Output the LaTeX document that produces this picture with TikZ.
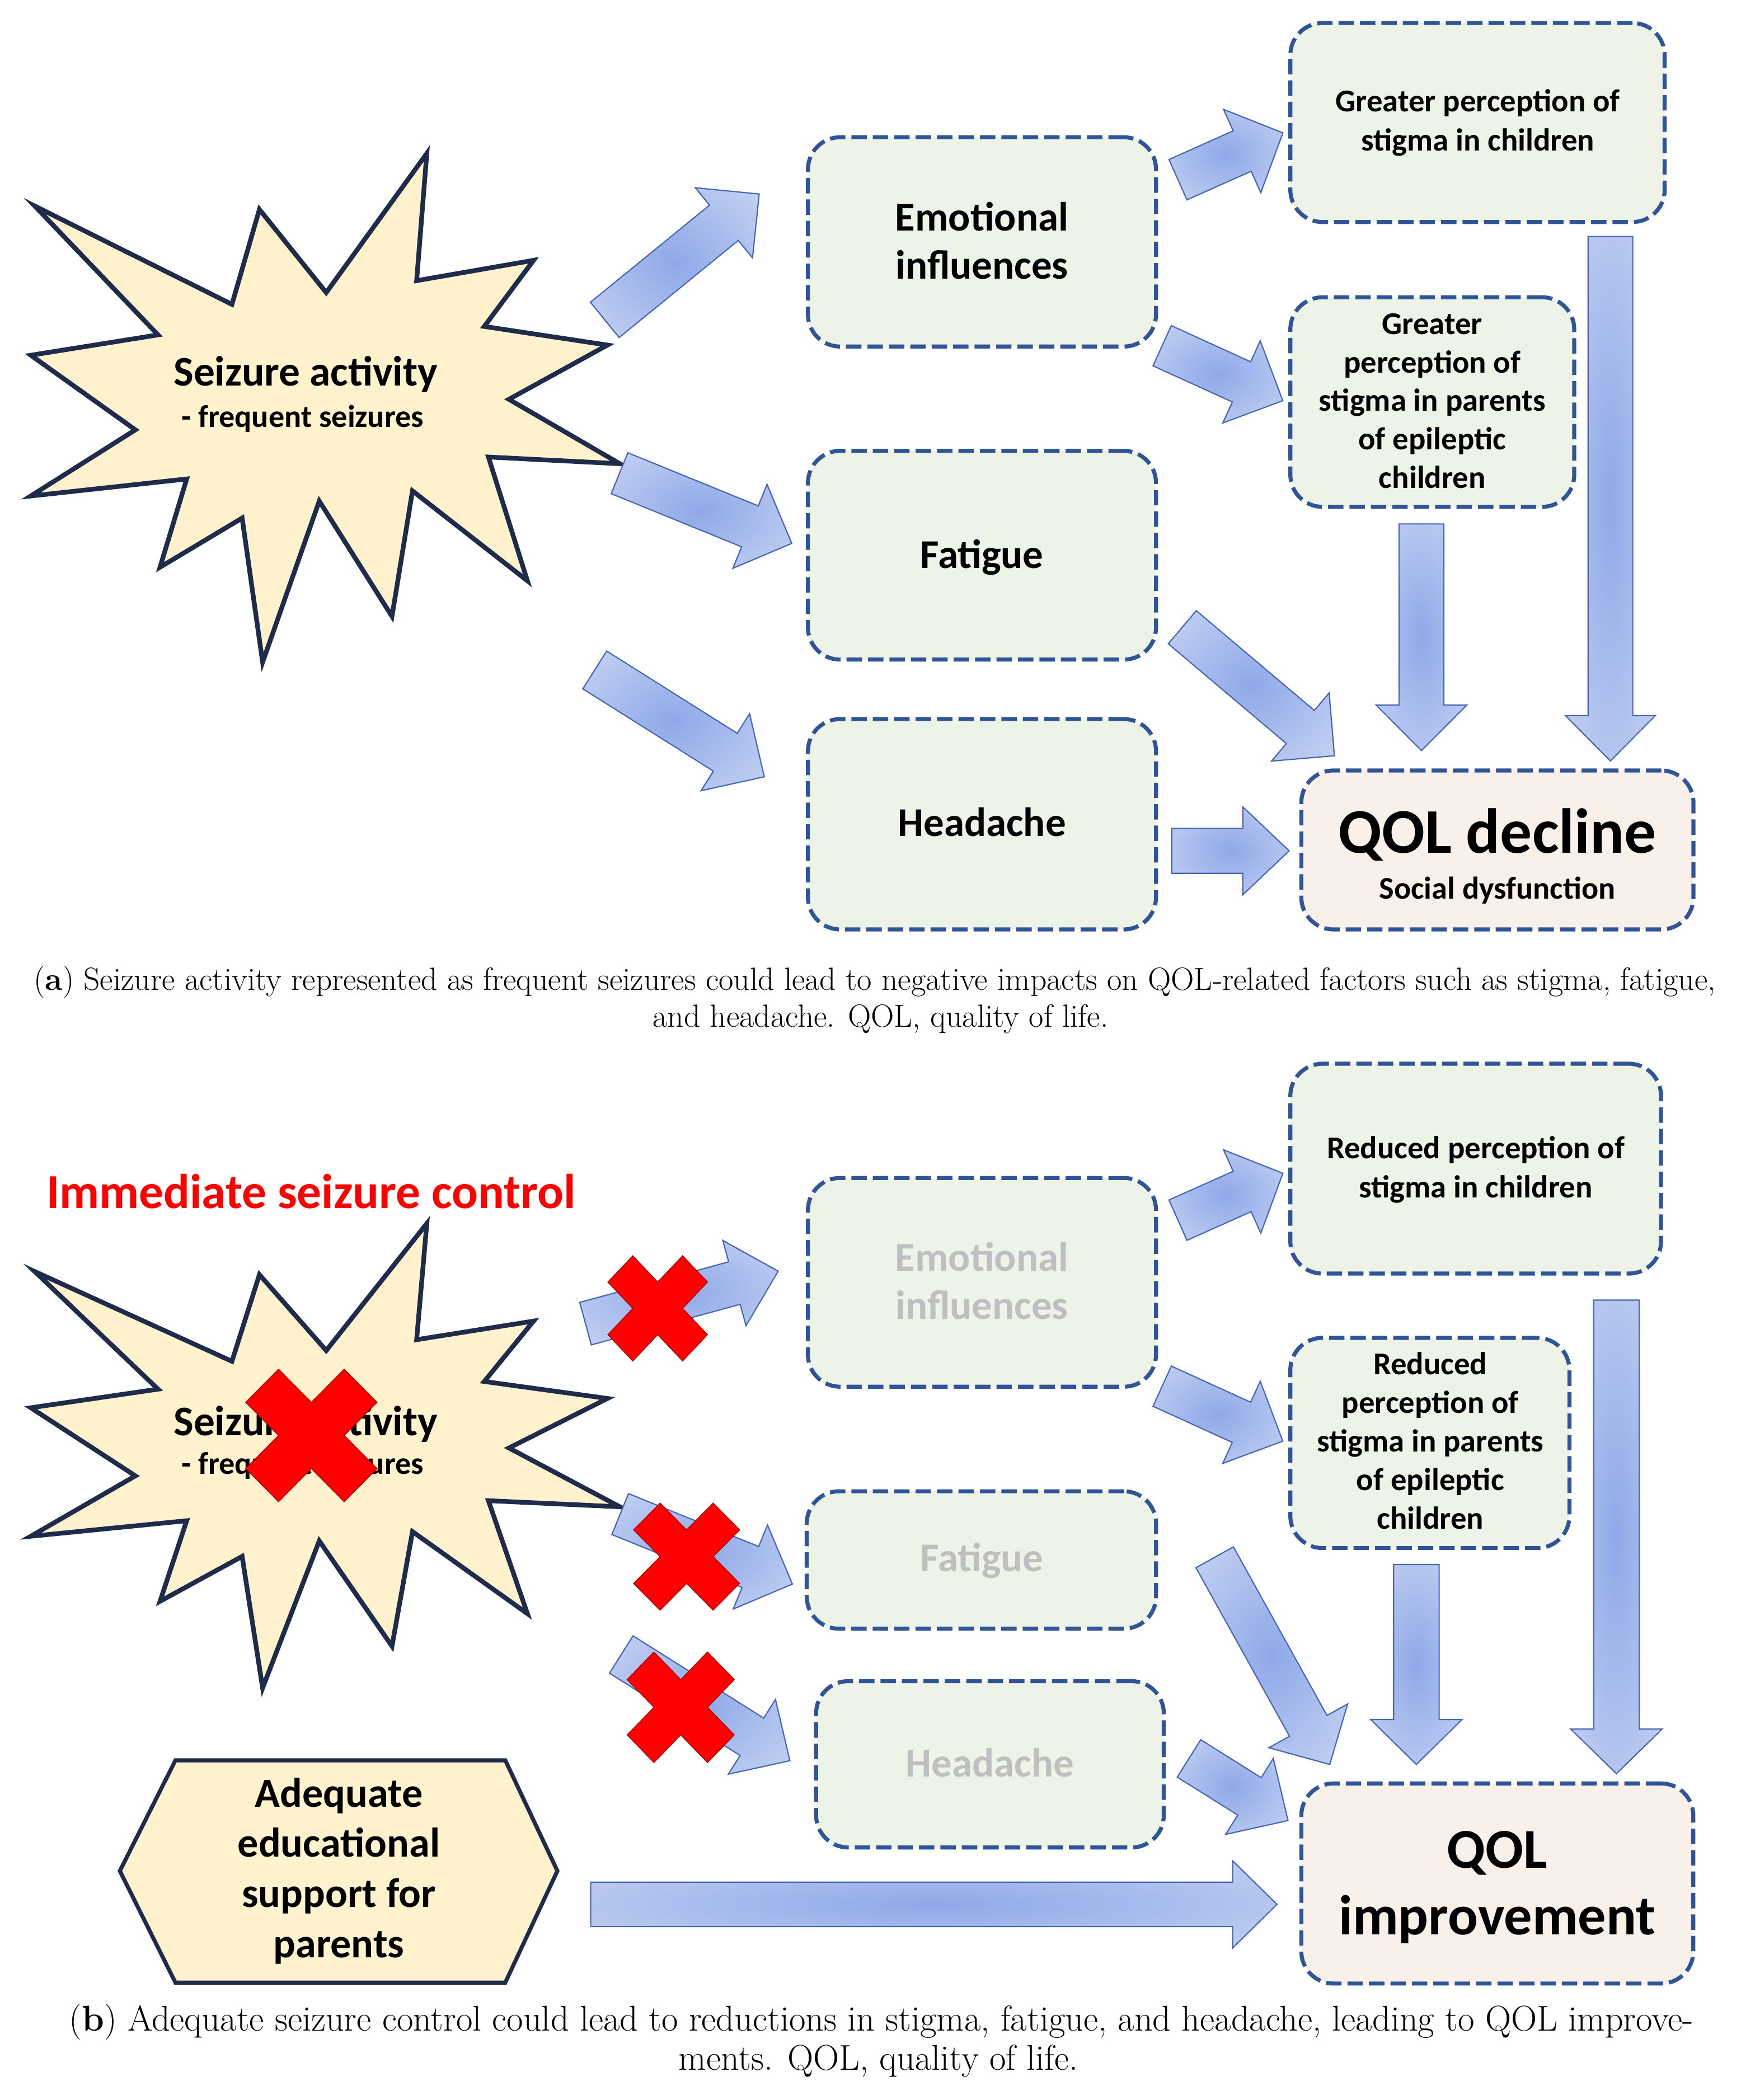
\documentclass[tikz,border=0pt]{standalone}
\usepackage{fontspec}
\newfontfamily\carl{Carlito}
\usetikzlibrary{calc}
\definecolor{boxline}{HTML}{2F5597}
\definecolor{boxfill}{HTML}{EEF3E8}
\definecolor{qolfill}{HTML}{FAF0EA}
\definecolor{starfill}{HTML}{FFF2CC}
\definecolor{starline}{HTML}{1E2B4B}
\definecolor{arrin}{HTML}{8EA8E8}
\definecolor{arrout}{HTML}{DCE3F5}
\definecolor{arrline}{HTML}{4566B2}
\definecolor{fadetext}{HTML}{BFBFBF}
\definecolor{xred}{HTML}{FF0000}
\definecolor{xedge}{HTML}{B00000}
\pgfdeclareradialshading{arrshade}{\pgfpoint{0bp}{0bp}}{color(0bp)=(arrin); color(50bp)=(arrout); color(75bp)=(arrout)}
\newlength\capwd
\newlength\capwdb
% block arrow from named tail to named tip: shaft width, head width, head length
\newcommand\blockarrow[5]{%
  \pgfmathanglebetweenpoints{\pgfpointanchor{#1}{center}}{\pgfpointanchor{#2}{center}}%
  \edef\BAang{\pgfmathresult}%
  \pgfpointdiff{\pgfpointanchor{#1}{center}}{\pgfpointanchor{#2}{center}}%
  \pgfgetlastxy{\BAdx}{\BAdy}%
  \pgfmathsetmacro\BAlen{veclen(\BAdx,\BAdy)}%
  \begin{scope}[shift={(#1)}, rotate=\BAang]
    \shadedraw[blockarr] (0,{-#3/2}) -- ({\BAlen-#5},{-#3/2}) -- ({\BAlen-#5},{-#4/2}) -- (\BAlen,0)
      -- ({\BAlen-#5},{#4/2}) -- ({\BAlen-#5},{#3/2}) -- (0,{#3/2}) -- cycle;
  \end{scope}}
\newcommand\redcross[3]{%
  \begin{scope}[shift={(#1)}, xscale=#2, yscale=#3]
    \path[crossx] (-1,-.5) -- (-.5,-1) -- (0,-.5) -- (.5,-1) -- (1,-.5) -- (.5,0) -- (1,.5)
      -- (.5,1) -- (0,.5) -- (-.5,1) -- (-1,.5) -- (-.5,0) -- cycle;
  \end{scope}}
\newcommand\dbnode[6]{%
  \node[dbox, fill=#6, minimum width={#4pt-#2pt}, minimum height={#5pt-#3pt}] (#1) at ({(#2+#4)/2},{(#3+#5)/2}) {};}
\begin{document}
\settowidth\capwd{\fontsize{20}{24}\selectfont(\textbf{a}) Seizure activity represented as frequent seizures could lead to negative impacts on QOL-related factors such as stigma, fatigue,}%
\settowidth\capwdb{\fontsize{20}{24}\selectfont(\textbf{b}) Adequate seizure control could lead to reductions in stigma, fatigue, and headache, leading to QOL improve-}%
\pgfmathsetmacro\capsize{1256/\capwd*20}%
\pgfmathsetmacro\capsizeb{1213/\capwdb*20}%
\begin{tikzpicture}[x=1pt, y=-1pt,
  dbox/.style={draw=boxline, line width=3pt, dash pattern=on 11.5pt off 4.5pt, rounded corners=24pt, inner sep=0pt},
  blockarr/.style={shading=arrshade, draw=arrline, line width=0.9pt, line join=miter},
  crossx/.style={fill=xred, draw=xedge, line width=0.6pt},
  starshape/.style={fill=starfill, draw=starline, line width=3.5pt, line join=miter, miter limit=10},
  txt/.style={inner sep=0pt, align=center, anchor=base},
  boxtxt/.style={txt, font=\carl\bfseries},
  fadetxt/.style={txt, font=\carl\bfseries, text=fadetext}]
\useasboundingbox (0,0) rectangle (1300,1568.3);

% ================= Panel (a) =================
\path[starshape] (26.0,153.9) -- (173.2,227.3) -- (193.7,156.4) -- (243.6,218.5) -- (318.7,114.6)
  -- (311.1,209.6) -- (398.4,194.4) -- (361.6,243.8) -- (453.6,257.7) -- (380.0,298.2)
  -- (462.8,346.3) -- (364.7,341.3) -- (393.8,433.7) -- (308.0,366.6) -- (292.7,460.3)
  -- (238.4,374.2) -- (196.1,494.5) -- (180.8,386.9) -- (119.5,423.6) -- (139.4,357.7)
  -- (23.0,370.4) -- (101.1,321.0) -- (23.0,265.3) -- (118.0,250.1) -- cycle;
\node[boxtxt, font=\carl\bfseries\fontsize{31.5}{36}\selectfont] (seiza) at (228.3,288.1) {Seizure activity};
\node[boxtxt, font=\carl\bfseries\fontsize{23.5}{28}\selectfont] (freqa) at (226,319.2) {- frequent seizures};

\dbnode{emoa}{603.3}{102.5}{863.2}{258.8}{boxfill}
\dbnode{gsc}{963.5}{17.2}{1243}{165.8}{boxfill}
\dbnode{gsp}{963.5}{222}{1175.5}{378.5}{boxfill}
\dbnode{fata}{603.3}{336.7}{863.2}{492.6}{boxfill}
\dbnode{heaa}{603.3}{537}{863.2}{694.1}{boxfill}
\dbnode{qola}{971.7}{575.4}{1264.5}{694.1}{qolfill}

% multi-line nodes: base anchor = baseline of the last line
\node[boxtxt, font=\carl\bfseries\fontsize{30.5}{36}\selectfont] (emoat) at (733.2,208.2) {Emotional\\influences};
\node[boxtxt, font=\carl\bfseries\fontsize{30.5}{36}\selectfont] (fatat) at (733.2,424.4) {Fatigue};
\node[boxtxt, font=\carl\bfseries\fontsize{30.5}{36}\selectfont] (heaat) at (733.2,624.6) {Headache};
\node[boxtxt, font=\carl\bfseries\fontsize{23.7}{29.2}\selectfont] (gsct) at (1103.5,112.7) {Greater perception of\\stigma in children};
\node[boxtxt, font=\carl\bfseries\fontsize{23.7}{28.7}\selectfont] (gspt) at (1069.5,364.5) {Greater\\perception of\\stigma in parents\\of epileptic\\children};
\node[boxtxt, font=\carl\bfseries\fontsize{47.5}{50}\selectfont] (qolat) at (1118,637.1) {QOL decline};
\node[boxtxt, font=\carl\bfseries\fontsize{23.5}{28}\selectfont] (qolas) at (1118,671.3) {Social dysfunction};

\coordinate (a1t) at (451.6,238.9);  \coordinate (a1h) at (566.9,144.9);
\coordinate (a2t) at (462.6,353.4);  \coordinate (a2h) at (591.2,405.8);
\coordinate (a3t) at (444.1,500.3);  \coordinate (a3h) at (570.7,580.1);
\coordinate (a4t) at (879.6,134.2);  \coordinate (a4h) at (958,99.2);
\coordinate (a5t) at (867.8,258.2);  \coordinate (a5h) at (958,299.3);
\coordinate (a6t) at (882.8,468.4);  \coordinate (a6h) at (996.4,564.4);
\coordinate (a7t) at (875,635.4);    \coordinate (a7h) at (962.6,635.4);
\coordinate (a8t) at (1061.4,391.3); \coordinate (a8h) at (1061.4,560.5);
\coordinate (a9t) at (1202.5,176.6); \coordinate (a9h) at (1202.5,568.3);
\blockarrow{a1t}{a1h}{34}{67.6}{34}
\blockarrow{a2t}{a2h}{33}{67.7}{33.7}
\blockarrow{a3t}{a3h}{33.4}{68}{34.4}
\blockarrow{a4t}{a4h}{33}{68.2}{33.3}
\blockarrow{a5t}{a5h}{33}{67.5}{33.9}
\blockarrow{a6t}{a6h}{32.4}{66.7}{33.3}
\blockarrow{a7t}{a7h}{33.6}{65.7}{34.6}
\blockarrow{a8t}{a8h}{33.4}{67.9}{34}
\blockarrow{a9t}{a9h}{33.4}{67.1}{33.9}

\node[inner sep=0pt, anchor=base west] (capa1) at (25,739.6) {\fontsize{\capsize}{\capsize}\selectfont\makebox[1256pt][s]{(\textbf{a}) Seizure activity represented as frequent seizures could lead to negative impacts on QOL-related factors such as stigma, fatigue,}};
\node[txt] (capa2) at (657.5,766.8) {\fontsize{\capsize}{\capsize}\selectfont and headache. QOL, quality of life.};

% ================= Panel (b) =================
\node[txt, font=\carl\bfseries\fontsize{36.5}{40}\selectfont, text=xred] (imm) at (232.4,902.6) {Immediate seizure control};

\begin{scope}[shift={(0,809.1)}, yscale=0.913]
\path[starshape] (26.0,153.9) -- (173.2,227.3) -- (193.7,156.4) -- (243.6,218.5) -- (318.7,114.6)
  -- (311.1,209.6) -- (398.4,194.4) -- (361.6,243.8) -- (453.6,257.7) -- (380.0,298.2)
  -- (462.8,346.3) -- (364.7,341.3) -- (393.8,433.7) -- (308.0,366.6) -- (292.7,460.3)
  -- (238.4,374.2) -- (196.1,494.5) -- (180.8,386.9) -- (119.5,423.6) -- (139.4,357.7)
  -- (23.0,370.4) -- (101.1,321.0) -- (23.0,265.3) -- (118.0,250.1) -- cycle;
\end{scope}
\node[boxtxt, font=\carl\bfseries\fontsize{31.5}{36}\selectfont] (seizb) at (228.3,1072.1) {Seizure activity};
\node[boxtxt, font=\carl\bfseries\fontsize{23.5}{28}\selectfont] (freqb) at (226,1100.9) {- frequent seizures};
\coordinate (xs) at (232.5,1072);
\redcross{xs}{49}{49.5}

\dbnode{emob}{603.3}{879.7}{863.2}{1035.6}{boxfill}
\dbnode{rsc}{963.5}{794.4}{1240.3}{951.1}{boxfill}
\dbnode{rsp}{963.5}{999.1}{1171.9}{1156.1}{boxfill}
\dbnode{fatb}{602.4}{1113.7}{863.2}{1216.3}{boxfill}
\dbnode{heab}{609.4}{1255.5}{869}{1379.7}{boxfill}
\dbnode{qolb}{971.7}{1331.9}{1264.4}{1481.3}{qolfill}

\node[fadetxt, font=\carl\bfseries\fontsize{30.5}{36}\selectfont] (emobt) at (733.2,985) {Emotional\\influences};
\node[fadetxt, font=\carl\bfseries\fontsize{30.5}{36}\selectfont] (fatbt) at (733.2,1173.7) {Fatigue};
\node[fadetxt, font=\carl\bfseries\fontsize{30.5}{36}\selectfont] (heabt) at (739.2,1326.9) {Headache};
\node[boxtxt, font=\carl\bfseries\fontsize{23.7}{29.4}\selectfont] (rsct) at (1102,894.4) {Reduced perception of\\stigma in children};
\node[boxtxt, font=\carl\bfseries\fontsize{23.7}{28.8}\selectfont] (rspt) at (1068,1141.8) {Reduced\\perception of\\stigma in parents\\of epileptic\\children};
\node[boxtxt, font=\carl\bfseries\fontsize{42}{50}\selectfont] (qolbt) at (1118,1444.9) {QOL\\improvement};

\path[fill=starfill, draw=starline, line width=3pt, line join=miter] (131,1314.6) -- (377.3,1314.6) -- (416.2,1397.2)
  -- (377.3,1480.6) -- (131,1480.6) -- (89.5,1397.2) -- cycle;
\node[boxtxt, font=\carl\bfseries\fontsize{31}{37.5}\selectfont] (hext) at (253,1461.9) {Adequate\\educational\\support for\\parents};

\coordinate (b1t) at (437.2,988.5);  \coordinate (b1h) at (581.1,949.3);
\coordinate (b2t) at (463.1,1130.7); \coordinate (b2h) at (591.7,1183);
\coordinate (b3t) at (463.9,1235.6); \coordinate (b3h) at (589.8,1314.9);
\coordinate (b4t) at (879.6,911.2);  \coordinate (b4h) at (958,876.2);
\coordinate (b5t) at (867.8,1035.2); \coordinate (b5h) at (958,1076.3);
\coordinate (b6t) at (907,1163);     \coordinate (b6h) at (992.9,1317.7);
\coordinate (b7t) at (887.8,1313.2); \coordinate (b7h) at (961.8,1359.6);
\coordinate (b8t) at (1057.6,1168.4);\coordinate (b8h) at (1057.6,1317.7);
\coordinate (b9t) at (1207,970.9);   \coordinate (b9h) at (1207,1324.6);
\coordinate (b10t) at (441.1,1422.2);\coordinate (b10h) at (953.5,1422.2);
\blockarrow{b1t}{b1h}{32.9}{66}{33.9}
\blockarrow{b2t}{b2h}{33}{67.8}{33.9}
\blockarrow{b3t}{b3h}{33}{66}{33.5}
\blockarrow{b4t}{b4h}{33}{68.2}{33.3}
\blockarrow{b5t}{b5h}{33}{67.5}{33.9}
\blockarrow{b6t}{b6h}{32}{67.3}{33}
\blockarrow{b7t}{b7h}{33}{67}{34}
\blockarrow{b8t}{b8h}{34}{68.3}{33.6}
\blockarrow{b9t}{b9h}{34}{68.4}{33.4}
\blockarrow{b10t}{b10h}{33.2}{65.2}{33.1}

\coordinate (x1) at (491.1,977.1);
\coordinate (x2) at (512.7,1162.5);
\coordinate (x3) at (508.3,1275);
\redcross{x1}{37.2}{39.3}
\redcross{x2}{39.6}{40}
\redcross{x3}{40}{41.3}

\node[inner sep=0pt, anchor=base west] (capb1) at (51.4,1516.5) {\fontsize{\capsizeb}{\capsizeb}\selectfont\makebox[1213pt][s]{(\textbf{b}) Adequate seizure control could lead to reductions in stigma, fatigue, and headache, leading to QOL improve-}};
\node[txt] (capb2) at (656,1546.1) {\fontsize{\capsizeb}{\capsizeb}\selectfont ments. QOL, quality of life.};
\end{tikzpicture}
\end{document}
